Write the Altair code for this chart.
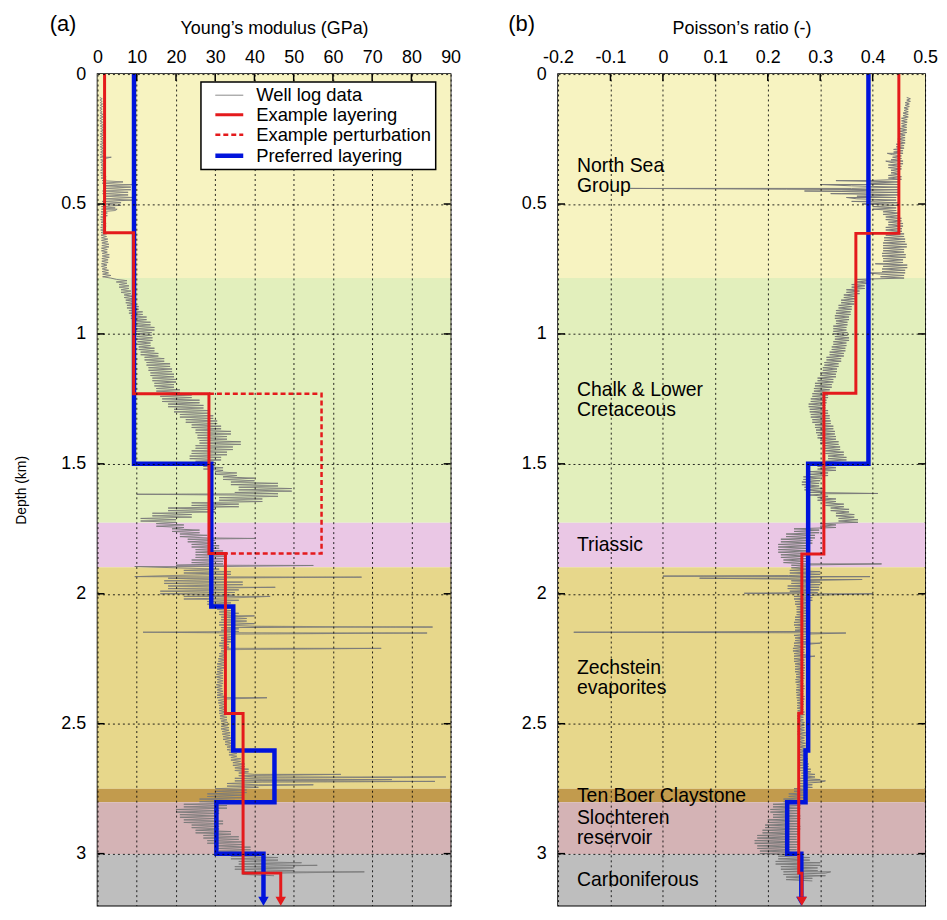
import altair as alt
import pandas as pd

FONT = "Liberation Sans"

# ---------------- data ----------------
DEPTH = [0.09, 0.11, 0.13, 0.15, 0.17, 0.19, 0.21, 0.23, 0.25, 0.27,
         0.29, 0.31, 0.33, 0.35, 0.37, 0.39, 0.41, 0.43, 0.45, 0.47,
         0.49, 0.51, 0.53, 0.55, 0.57, 0.59, 0.61, 0.63, 0.65, 0.67,
         0.69, 0.71, 0.73, 0.75, 0.77, 0.79, 0.81, 0.83, 0.85, 0.87,
         0.89, 0.91, 0.93, 0.95, 0.97, 0.99, 1.01, 1.03, 1.05, 1.07,
         1.09, 1.11, 1.13, 1.15, 1.17, 1.19, 1.21, 1.23, 1.25, 1.27,
         1.29, 1.31, 1.33, 1.35, 1.37, 1.39, 1.41, 1.43, 1.45, 1.47,
         1.49, 1.51, 1.53, 1.55, 1.57, 1.59, 1.61, 1.63, 1.65, 1.67,
         1.69, 1.71, 1.73, 1.75, 1.77, 1.79, 1.81, 1.83, 1.85, 1.87,
         1.89, 1.91, 1.93, 1.95, 1.97, 1.99, 2.01, 2.03, 2.05, 2.07,
         2.09, 2.11, 2.13, 2.15, 2.17, 2.19, 2.21, 2.23, 2.25, 2.27,
         2.29, 2.31, 2.33, 2.35, 2.37, 2.39, 2.41, 2.43, 2.45, 2.47,
         2.49, 2.51, 2.53, 2.55, 2.57, 2.59, 2.61, 2.63, 2.65, 2.67,
         2.69, 2.71, 2.73, 2.75, 2.77, 2.79, 2.81, 2.83, 2.85, 2.87,
         2.89, 2.91, 2.93, 2.95, 2.97, 2.99, 3.01, 3.03, 3.05, 3.07,
         3.09]

# Young's modulus well log envelope (GPa): low / high edge at each depth
E_LO = [0.6, 0.7, 0.6, 0.7, 0.6, 0.7, 0.8, 0.7, 0.8, 0.7,
        0.8, 0.7, 0.8, 0.9, 0.8, 0.9, 1.2, 1.5, 1.3, 1.6,
        1.2, 1.0, 0.9, 0.8, 0.9, 0.8, 0.9, 1.0, 1.1, 1.0,
        1.2, 1.1, 1.0, 1.2, 1.3, 4.8, 5.5, 6.0, 6.8, 7.2,
        7.5, 8.0, 8.5, 9.0, 9.5, 9.8, 10.0, 10.2, 10.5, 11.0,
        12.0, 12.5, 13.0, 13.5, 14.0, 14.5, 15.0, 16.0, 16.5, 18.0,
        19.5, 21.0, 22.5, 24.0, 25.0, 25.5, 26.0, 25.0, 24.0, 23.5,
        25.0, 27.0, 30.0, 32.0, 34.0, 36.0, 35.0, 31.0, 24.0, 18.0,
        14.0, 11.0, 15.0, 19.0, 21.0, 23.0, 24.0, 25.0, 25.0, 24.0,
        20.0, 22.0, 18.0, 17.0, 18.0, 16.0, 22.0, 28.0, 30.5, 31.0,
        31.5, 31.0, 31.5, 31.0, 31.5, 31.0, 31.5, 31.0, 30.8, 30.5,
        30.5, 30.3, 30.5, 30.3, 30.5, 30.5, 30.8, 31.0, 31.0, 31.2,
        31.5, 31.5, 31.8, 32.0, 32.5, 33.0, 33.5, 34.0, 34.5, 35.0,
        36.0, 35.0, 33.0, 30.0, 28.0, 26.0, 22.0, 20.0, 21.0, 22.0,
        24.0, 25.0, 27.0, 28.0, 30.0, 31.0, 34.0, 36.0, 35.0, 37.0]
E_HI = [1.2, 1.3, 1.2, 1.4, 1.3, 1.5, 1.6, 1.4, 1.7, 1.5,
        1.6, 1.8, 1.6, 1.7, 1.9, 2.2, 6.5, 8.5, 7.8, 9.0,
        6.0, 4.5, 2.5, 2.0, 2.2, 1.9, 2.3, 2.6, 2.9, 2.5,
        3.0, 2.7, 2.4, 2.8, 3.4, 7.5, 8.0, 8.5, 9.0, 9.6,
        10.5, 11.5, 12.5, 13.5, 14.5, 13.8, 14.0, 13.5, 14.5, 15.5,
        17.0, 18.5, 19.0, 19.5, 20.0, 19.5, 21.0, 24.0, 26.0, 27.0,
        28.5, 29.5, 30.5, 31.5, 34.0, 33.0, 36.5, 34.5, 33.0, 31.5,
        30.0, 32.0, 35.5, 40.0, 46.0, 49.5, 46.0, 42.0, 36.0, 30.0,
        24.0, 20.0, 22.0, 26.0, 28.0, 30.0, 31.0, 32.0, 33.0, 32.0,
        31.0, 34.0, 33.0, 37.0, 36.0, 35.0, 36.0, 34.0, 34.0, 36.0,
        38.0, 40.0, 36.0, 35.0, 34.0, 33.5, 33.0, 32.8, 32.5, 32.3,
        32.0, 32.0, 32.0, 31.8, 32.0, 32.5, 32.5, 32.5, 32.8, 33.0,
        33.2, 33.5, 33.8, 34.0, 34.5, 35.0, 35.5, 36.5, 37.5, 38.5,
        40.0, 42.0, 41.0, 38.0, 37.0, 35.0, 33.0, 31.0, 30.0, 32.0,
        31.0, 34.0, 36.0, 37.0, 39.0, 40.0, 46.0, 52.0, 50.0, 45.0]
# isolated spikes of the Young's modulus log
E_SPIKE_D = [0.32, 0.425, 0.52, 1.617, 1.787, 1.891, 1.895, 1.934, 1.936, 1.975,
             2.01, 2.085, 2.128, 2.148, 2.151, 2.21, 2.40, 2.695, 2.705, 2.715,
             2.722, 2.735, 3.045, 3.07]
E_SPIKE_V = [3.5, 10.2, 5.0, 10.0, 40.0, 55.0, 9.5, 9.5, 67.3, 45.3,
             44.0, 40.0, 85.4, 11.6, 84.0, 72.3, 43.2, 62.0, 88.8, 75.0,
             86.0, 55.0, 56.0, 68.0]

# Poisson's ratio well log envelope (-)
V_LO = [0.465, 0.462, 0.460, 0.458, 0.455, 0.455, 0.452, 0.450, 0.448, 0.445,
        0.440, 0.438, 0.435, 0.430, 0.435, 0.430, 0.390, 0.360, 0.340, 0.370,
        0.380, 0.400, 0.420, 0.425, 0.430, 0.425, 0.425, 0.422, 0.420, 0.420,
        0.418, 0.420, 0.420, 0.418, 0.415, 0.370, 0.360, 0.350, 0.345, 0.340,
        0.335, 0.330, 0.328, 0.330, 0.325, 0.325, 0.328, 0.325, 0.322, 0.318,
        0.312, 0.308, 0.305, 0.300, 0.295, 0.290, 0.288, 0.285, 0.282, 0.278,
        0.280, 0.282, 0.285, 0.290, 0.292, 0.295, 0.300, 0.305, 0.310, 0.315,
        0.310, 0.295, 0.280, 0.268, 0.265, 0.270, 0.280, 0.295, 0.310, 0.320,
        0.330, 0.335, 0.300, 0.250, 0.235, 0.225, 0.220, 0.220, 0.225, 0.230,
        0.245, 0.242, 0.240, 0.245, 0.238, 0.242, 0.250, 0.252, 0.255, 0.255,
        0.252, 0.250, 0.252, 0.250, 0.252, 0.250, 0.248, 0.250, 0.250, 0.252,
        0.252, 0.254, 0.253, 0.255, 0.254, 0.255, 0.256, 0.256, 0.257, 0.256,
        0.257, 0.258, 0.257, 0.258, 0.258, 0.259, 0.258, 0.260, 0.261, 0.262,
        0.264, 0.262, 0.260, 0.250, 0.240, 0.230, 0.210, 0.205, 0.210, 0.200,
        0.195, 0.190, 0.180, 0.175, 0.180, 0.185, 0.220, 0.215, 0.225, 0.230,
        0.235]
V_HI = [0.472, 0.470, 0.468, 0.468, 0.466, 0.465, 0.465, 0.462, 0.462, 0.460,
        0.458, 0.455, 0.458, 0.455, 0.452, 0.455, 0.452, 0.448, 0.450, 0.445,
        0.450, 0.445, 0.452, 0.455, 0.458, 0.456, 0.460, 0.462, 0.465, 0.460,
        0.463, 0.458, 0.466, 0.462, 0.460, 0.395, 0.385, 0.375, 0.368, 0.365,
        0.360, 0.358, 0.355, 0.352, 0.350, 0.352, 0.355, 0.350, 0.348, 0.345,
        0.340, 0.335, 0.332, 0.330, 0.325, 0.322, 0.318, 0.315, 0.312, 0.310,
        0.315, 0.318, 0.320, 0.325, 0.328, 0.330, 0.335, 0.338, 0.345, 0.350,
        0.345, 0.330, 0.315, 0.300, 0.298, 0.305, 0.315, 0.330, 0.345, 0.355,
        0.365, 0.372, 0.330, 0.298, 0.290, 0.285, 0.280, 0.278, 0.275, 0.275,
        0.280, 0.300, 0.305, 0.300, 0.298, 0.295, 0.285, 0.280, 0.278, 0.275,
        0.278, 0.280, 0.276, 0.275, 0.274, 0.272, 0.270, 0.272, 0.270, 0.271,
        0.270, 0.270, 0.268, 0.270, 0.268, 0.270, 0.269, 0.268, 0.270, 0.268,
        0.270, 0.270, 0.272, 0.270, 0.272, 0.274, 0.275, 0.276, 0.278, 0.282,
        0.290, 0.300, 0.285, 0.275, 0.270, 0.265, 0.262, 0.258, 0.262, 0.260,
        0.262, 0.258, 0.255, 0.258, 0.255, 0.260, 0.280, 0.300, 0.295, 0.310,
        0.285]
V_SPIKE_D = [0.305, 0.335, 0.41, 0.425, 0.44, 0.443, 0.45, 0.46, 0.475, 0.49,
             0.73, 0.765, 1.614, 1.885, 1.932, 1.934, 1.94, 1.945, 1.998, 2.0,
             2.148, 2.151, 2.19, 2.24, 2.72, 3.07]
V_SPIKE_V = [0.428, 0.425, 0.33, 0.30, -0.063, 0.236, 0.27, 0.32, 0.35, 0.36,
             0.405, 0.39, 0.41, 0.417, 0.0, 0.395, 0.07, 0.38, 0.155, 0.40,
             -0.17, 0.349, 0.30, 0.29, 0.31, 0.32]

# layer models: top depth of each layer and value in it
E_RED_TOP = [0.0, 0.611, 1.23, 1.845, 2.461, 3.075]
E_RED_VAL = [1.8, 9.2, 28.4, 32.6, 37.1, 46.7]
E_PERT_D = [1.23, 1.23, 1.845, 1.845]
E_PERT_V = [28.4, 57.1, 57.1, 32.6]
E_BLUE_TOP = [0.0, 1.5, 2.049, 2.603, 2.802, 3.0]
E_BLUE_VAL = [9.3, 29.0, 34.6, 45.1, 30.3, 42.3]

V_RED_TOP = [0.0, 0.613, 1.228, 1.847, 2.46, 3.075]
V_RED_VAL = [0.450, 0.368, 0.307, 0.265, 0.259, 0.265]
V_BLUE_TOP = [0.0, 1.5, 2.603, 2.802, 3.0]
V_BLUE_VAL = [0.392, 0.277, 0.272, 0.237, 0.264]

MAX_DEPTH = 3.2
ARROW_DEPTH = 3.183

# geological units (background bands)
UNITS = ["North Sea Group", "Chalk & Lower Cretaceous", "Triassic",
         "Zechstein evaporites", "Ten Boer Claystone", "Slochteren reservoir",
         "Carboniferous"]
UNIT_TOP = [0.0, 0.785, 1.727, 1.898, 2.750, 2.802, 3.002]
UNIT_BOT = [0.785, 1.727, 1.898, 2.750, 2.802, 3.002, 3.2]
UNIT_COLORS = ["#f7f3c1", "#e2efbc", "#eac7e5", "#e7d78b", "#c29b4d",
               "#d4b3b5", "#bebebe"]

# unit labels of panel (b) (depth of the first line's baseline)
LABEL_TEXT = ["North Sea\nGroup", "Chalk & Lower\nCretaceous", "Triassic",
              "Zechstein\nevaporites", "Ten Boer Claystone",
              "Slochteren\nreservoir", "Carboniferous"]
LABEL_DEPTH = [0.378, 1.239, 1.836, 2.308, 2.800, 2.886, 3.124]
LABEL_X = -0.164

# panel letters, placed in data units of each panel (outside the plot frame)
PANEL_A = {"t": "(a)", "x": -12.2, "d": -0.1665}
PANEL_B = {"t": "(b)", "x": -0.295, "d": -0.1665}

SERIES = ["Well log data", "Example layering", "Example perturbation",
          "Preferred layering"]
SERIES_COLORS = ["#7a7a7a", "#e41a1c", "#e41a1c", "#0014dc"]
SERIES_DASH = [[1, 0], [1, 0], [5, 3], [1, 0]]
SERIES_WIDTH = [1.0, 3.0, 2.5, 4.5]

E_TICKS = [0, 10, 20, 30, 40, 50, 60, 70, 80, 90]
V_TICKS = [-0.2, -0.1, 0, 0.1, 0.2, 0.3, 0.4, 0.5]
D_TICKS = [0, 0.5, 1, 1.5, 2, 2.5, 3]

RED = SERIES_COLORS[1]
BLUE = SERIES_COLORS[3]
GRAY = SERIES_COLORS[0]


# ---------------- helpers to build tables ----------------
def step_path(tops, vals, series, bottom=ARROW_DEPTH):
    rows = []
    k = 0
    for i, (t, v) in enumerate(zip(tops, vals)):
        b = tops[i + 1] if i + 1 < len(tops) else bottom
        rows.append({"x": v, "d": t, "o": k, "series": series}); k += 1
        rows.append({"x": v, "d": b, "o": k, "series": series}); k += 1
    return pd.DataFrame(rows)


def log_path(lo, hi, sd, sv):
    # the log is drawn as a dense zig-zag between the read low and high edges
    pts = []
    for d, a, b in zip(DEPTH, lo, hi):
        pts.append((d, a))
        pts.append((d + 0.005, b))
        pts.append((d + 0.010, a))
        pts.append((d + 0.015, b))
    pts += list(zip(sd, sv))
    pts.sort(key=lambda p: p[0])
    return pd.DataFrame({"d": [p[0] for p in pts], "x": [p[1] for p in pts],
                         "o": list(range(len(pts))),
                         "series": "Well log data"})


bands = pd.DataFrame({"unit": UNITS, "top": UNIT_TOP, "bot": UNIT_BOT})
labels = pd.DataFrame({"t": LABEL_TEXT, "d": LABEL_DEPTH, "x": LABEL_X})
d_ticks = pd.DataFrame({"d": D_TICKS[1:]})
e_ticks = pd.DataFrame({"x": E_TICKS[1:-1]})
v_ticks = pd.DataFrame({"x": V_TICKS[1:-1]})

e_log = log_path(E_LO, E_HI, E_SPIKE_D, E_SPIKE_V)
e_red = step_path(E_RED_TOP, E_RED_VAL, "Example layering")
e_blue = step_path(E_BLUE_TOP, E_BLUE_VAL, "Preferred layering")
e_pert = pd.DataFrame({"x": E_PERT_V, "d": E_PERT_D, "o": [0, 1, 2, 3],
                       "series": "Example perturbation"})
e_arrows = pd.DataFrame({"x": [E_BLUE_VAL[-1], E_RED_VAL[-1]],
                         "d": [ARROW_DEPTH, ARROW_DEPTH],
                         "s": ["Preferred layering", "Example layering"]})

v_log = log_path(V_LO, V_HI, V_SPIKE_D, V_SPIKE_V)
v_red = step_path(V_RED_TOP, V_RED_VAL, "Example layering")
v_blue = step_path(V_BLUE_TOP, V_BLUE_VAL, "Preferred layering")
v_arrows = pd.DataFrame({"x": [V_BLUE_VAL[-1], V_RED_VAL[-1]],
                         "d": [ARROW_DEPTH, ARROW_DEPTH],
                         "s": ["Preferred layering", "Example layering"]})

W_A, W_B, H = 355, 369, 836
TICK_LEN = 7

label_expr = "'' + datum.value"

y_scale = alt.Scale(domain=[0, MAX_DEPTH], reverse=True, nice=False, zero=False)


def y_axis(title):
    if title is None:
        return alt.Axis(values=D_TICKS, labelExpr=label_expr, title=None,
                        zindex=1)
    return alt.Axis(values=D_TICKS, labelExpr=label_expr, title=title, zindex=1)


def y_enc(field, title):
    return alt.Y(field, type="quantitative", scale=y_scale, axis=y_axis(title))


def x_axis(ticks, title):
    return alt.Axis(orient="top", values=ticks, labelExpr=label_expr,
                    title=title, zindex=1)


def x_enc(field, domain, ticks, title):
    return alt.X(field, type="quantitative",
                 scale=alt.Scale(domain=domain, nice=False, zero=False),
                 axis=x_axis(ticks, title))


fill_enc = alt.Fill("unit:N", scale=alt.Scale(domain=UNITS, range=UNIT_COLORS),
                    legend=None)


def inner_ticks(xf, yf, width, xticks_df):
    left = alt.Chart(d_ticks).mark_rule(color="black", strokeWidth=1.5).encode(
        y=yf("d"), x=alt.value(0), x2=alt.value(TICK_LEN))
    right = alt.Chart(d_ticks).mark_rule(color="black", strokeWidth=1.5).encode(
        y=yf("d"), x=alt.value(width - TICK_LEN), x2=alt.value(width))
    top = alt.Chart(xticks_df).mark_rule(color="black", strokeWidth=1.5).encode(
        x=xf("x"), y=alt.value(0), y2=alt.value(TICK_LEN))
    return [left, right, top]


def letter(info, xf, yf):
    return alt.Chart(pd.DataFrame([info])).mark_text(
        align="left", baseline="alphabetic", font=FONT, fontSize=22,
        color="black").encode(x=xf("x"), y=yf("d"), text="t:N")


# ---------------- panel (a) ----------------
TITLE_A = "Young\u2019s modulus (GPa)"
xa = lambda f="x": x_enc(f, [0, 90], E_TICKS, TITLE_A)
ya = lambda f="d": y_enc(f, "Depth (km)")

legend_cfg = alt.Legend(title=None, orient="none", legendX=104, legendY=8,
                        fillColor="white", strokeColor="black",
                        padding=4, labelFont=FONT, labelFontSize=18.5,
                        symbolType="M-1.65,0H1.65", symbolSize=289,
                        symbolOffset=13.5, labelOffset=16,
                        rowPadding=0, labelLimit=400, zindex=2)
line_enc = dict(
    color=alt.Color("series:N", scale=alt.Scale(domain=SERIES, range=SERIES_COLORS),
                    legend=legend_cfg),
    strokeDash=alt.StrokeDash("series:N",
                              scale=alt.Scale(type="ordinal", domain=SERIES,
                                              range=SERIES_DASH),
                              legend=legend_cfg),
    strokeWidth=alt.StrokeWidth("series:N",
                                scale=alt.Scale(type="ordinal", domain=SERIES,
                                                range=SERIES_WIDTH),
                                legend=legend_cfg),
)

band_a = alt.Chart(bands).mark_rect().encode(
    y=ya("top"), y2="bot",
    x=alt.datum(0, scale=alt.Scale(domain=[0, 90], nice=False, zero=False),
                axis=x_axis(E_TICKS, TITLE_A)),
    x2=alt.datum(90),
    fill=fill_enc)

log_a = alt.Chart(e_log).mark_line().encode(
    x=xa(), y=ya(), order="o:Q", **line_enc)
blue_a = alt.Chart(e_blue).mark_line(strokeJoin="miter").encode(
    x=xa(), y=ya(), order="o:Q", **line_enc)
red_a = alt.Chart(e_red).mark_line(strokeJoin="miter").encode(
    x=xa(), y=ya(), order="o:Q", **line_enc)
pert_a = alt.Chart(e_pert).mark_line(strokeJoin="miter").encode(
    x=xa(), y=ya(), order="o:Q", **line_enc)
arrow_a = alt.Chart(e_arrows).mark_point(
    shape="triangle-down", filled=True, size=110, opacity=1).encode(
    x=xa(), y=ya(),
    fill=alt.Fill("s:N", scale=alt.Scale(domain=["Preferred layering", "Example layering"],
                                         range=[BLUE, RED]), legend=None))

panel_a = alt.layer(band_a, log_a, blue_a, red_a, pert_a, arrow_a,
                    *inner_ticks(xa, ya, W_A, e_ticks),
                    letter(PANEL_A, xa, ya)).resolve_scale(
    fill="independent").properties(width=W_A, height=H)

# ---------------- panel (b) ----------------
TITLE_B = "Poisson\u2019s ratio (-)"
xb = lambda f="x": x_enc(f, [-0.2, 0.5], V_TICKS, TITLE_B)
yb = lambda f="d": y_enc(f, None)

band_b = alt.Chart(bands).mark_rect().encode(
    y=yb("top"), y2="bot",
    x=alt.datum(-0.2, scale=alt.Scale(domain=[-0.2, 0.5], nice=False, zero=False),
                axis=x_axis(V_TICKS, TITLE_B)),
    x2=alt.datum(0.5),
    fill=fill_enc)
text_b = alt.Chart(labels).mark_text(align="left", baseline="alphabetic",
                                     lineBreak="\n", lineHeight=20,
                                     font=FONT, fontSize=19.5, color="black").encode(
    x=xb(), y=yb(), text="t:N")
log_b = alt.Chart(v_log).mark_line(color=GRAY, strokeWidth=1).encode(
    x=xb(), y=yb(), order="o:Q")
blue_b = alt.Chart(v_blue).mark_line(color=BLUE, strokeWidth=4.5, strokeJoin="miter").encode(
    x=xb(), y=yb(), order="o:Q")
red_b = alt.Chart(v_red).mark_line(color=RED, strokeWidth=3, strokeJoin="miter").encode(
    x=xb(), y=yb(), order="o:Q")
arrow_b = alt.Chart(v_arrows).mark_point(
    shape="triangle-down", filled=True, size=110, opacity=1).encode(
    x=xb(), y=yb(),
    fill=alt.Fill("s:N", scale=alt.Scale(domain=["Preferred layering", "Example layering"],
                                         range=[BLUE, RED]), legend=None))

panel_b = alt.layer(band_b, text_b, log_b, blue_b, red_b, arrow_b,
                    *inner_ticks(xb, yb, W_B, v_ticks),
                    letter(PANEL_B, xb, yb)).resolve_scale(
    fill="independent").properties(width=W_B, height=H)

chart = alt.hconcat(panel_a, panel_b, spacing=46).resolve_scale(
    x="independent", y="independent", color="independent",
    strokeDash="independent", strokeWidth="independent", fill="independent"
).resolve_legend(color="independent", strokeDash="independent",
                 strokeWidth="independent", fill="independent").properties(
    padding={"left": 6, "top": 1, "right": 0, "bottom": 0}
).configure_view(stroke="black", strokeWidth=1.6).configure_axis(
    labelFont=FONT, titleFont=FONT, labelFontSize=18, titleFontSize=18,
    titleFontWeight="normal", labelColor="black", titleColor="black",
    ticks=False, domain=False, grid=True, gridColor="black", gridDash=[2, 3],
    gridWidth=1, gridOpacity=0.85, labelOverlap=False,
    labelFlush=False, labelBound=False
).configure_axisTop(labelPadding=8, titlePadding=11
).configure_axisLeft(labelPadding=12, titlePadding=32, titleFontSize=14
).configure_legend(strokeWidth=1.5)

chart.save("out.html", embed_options={"renderer": "svg", "actions": False})
